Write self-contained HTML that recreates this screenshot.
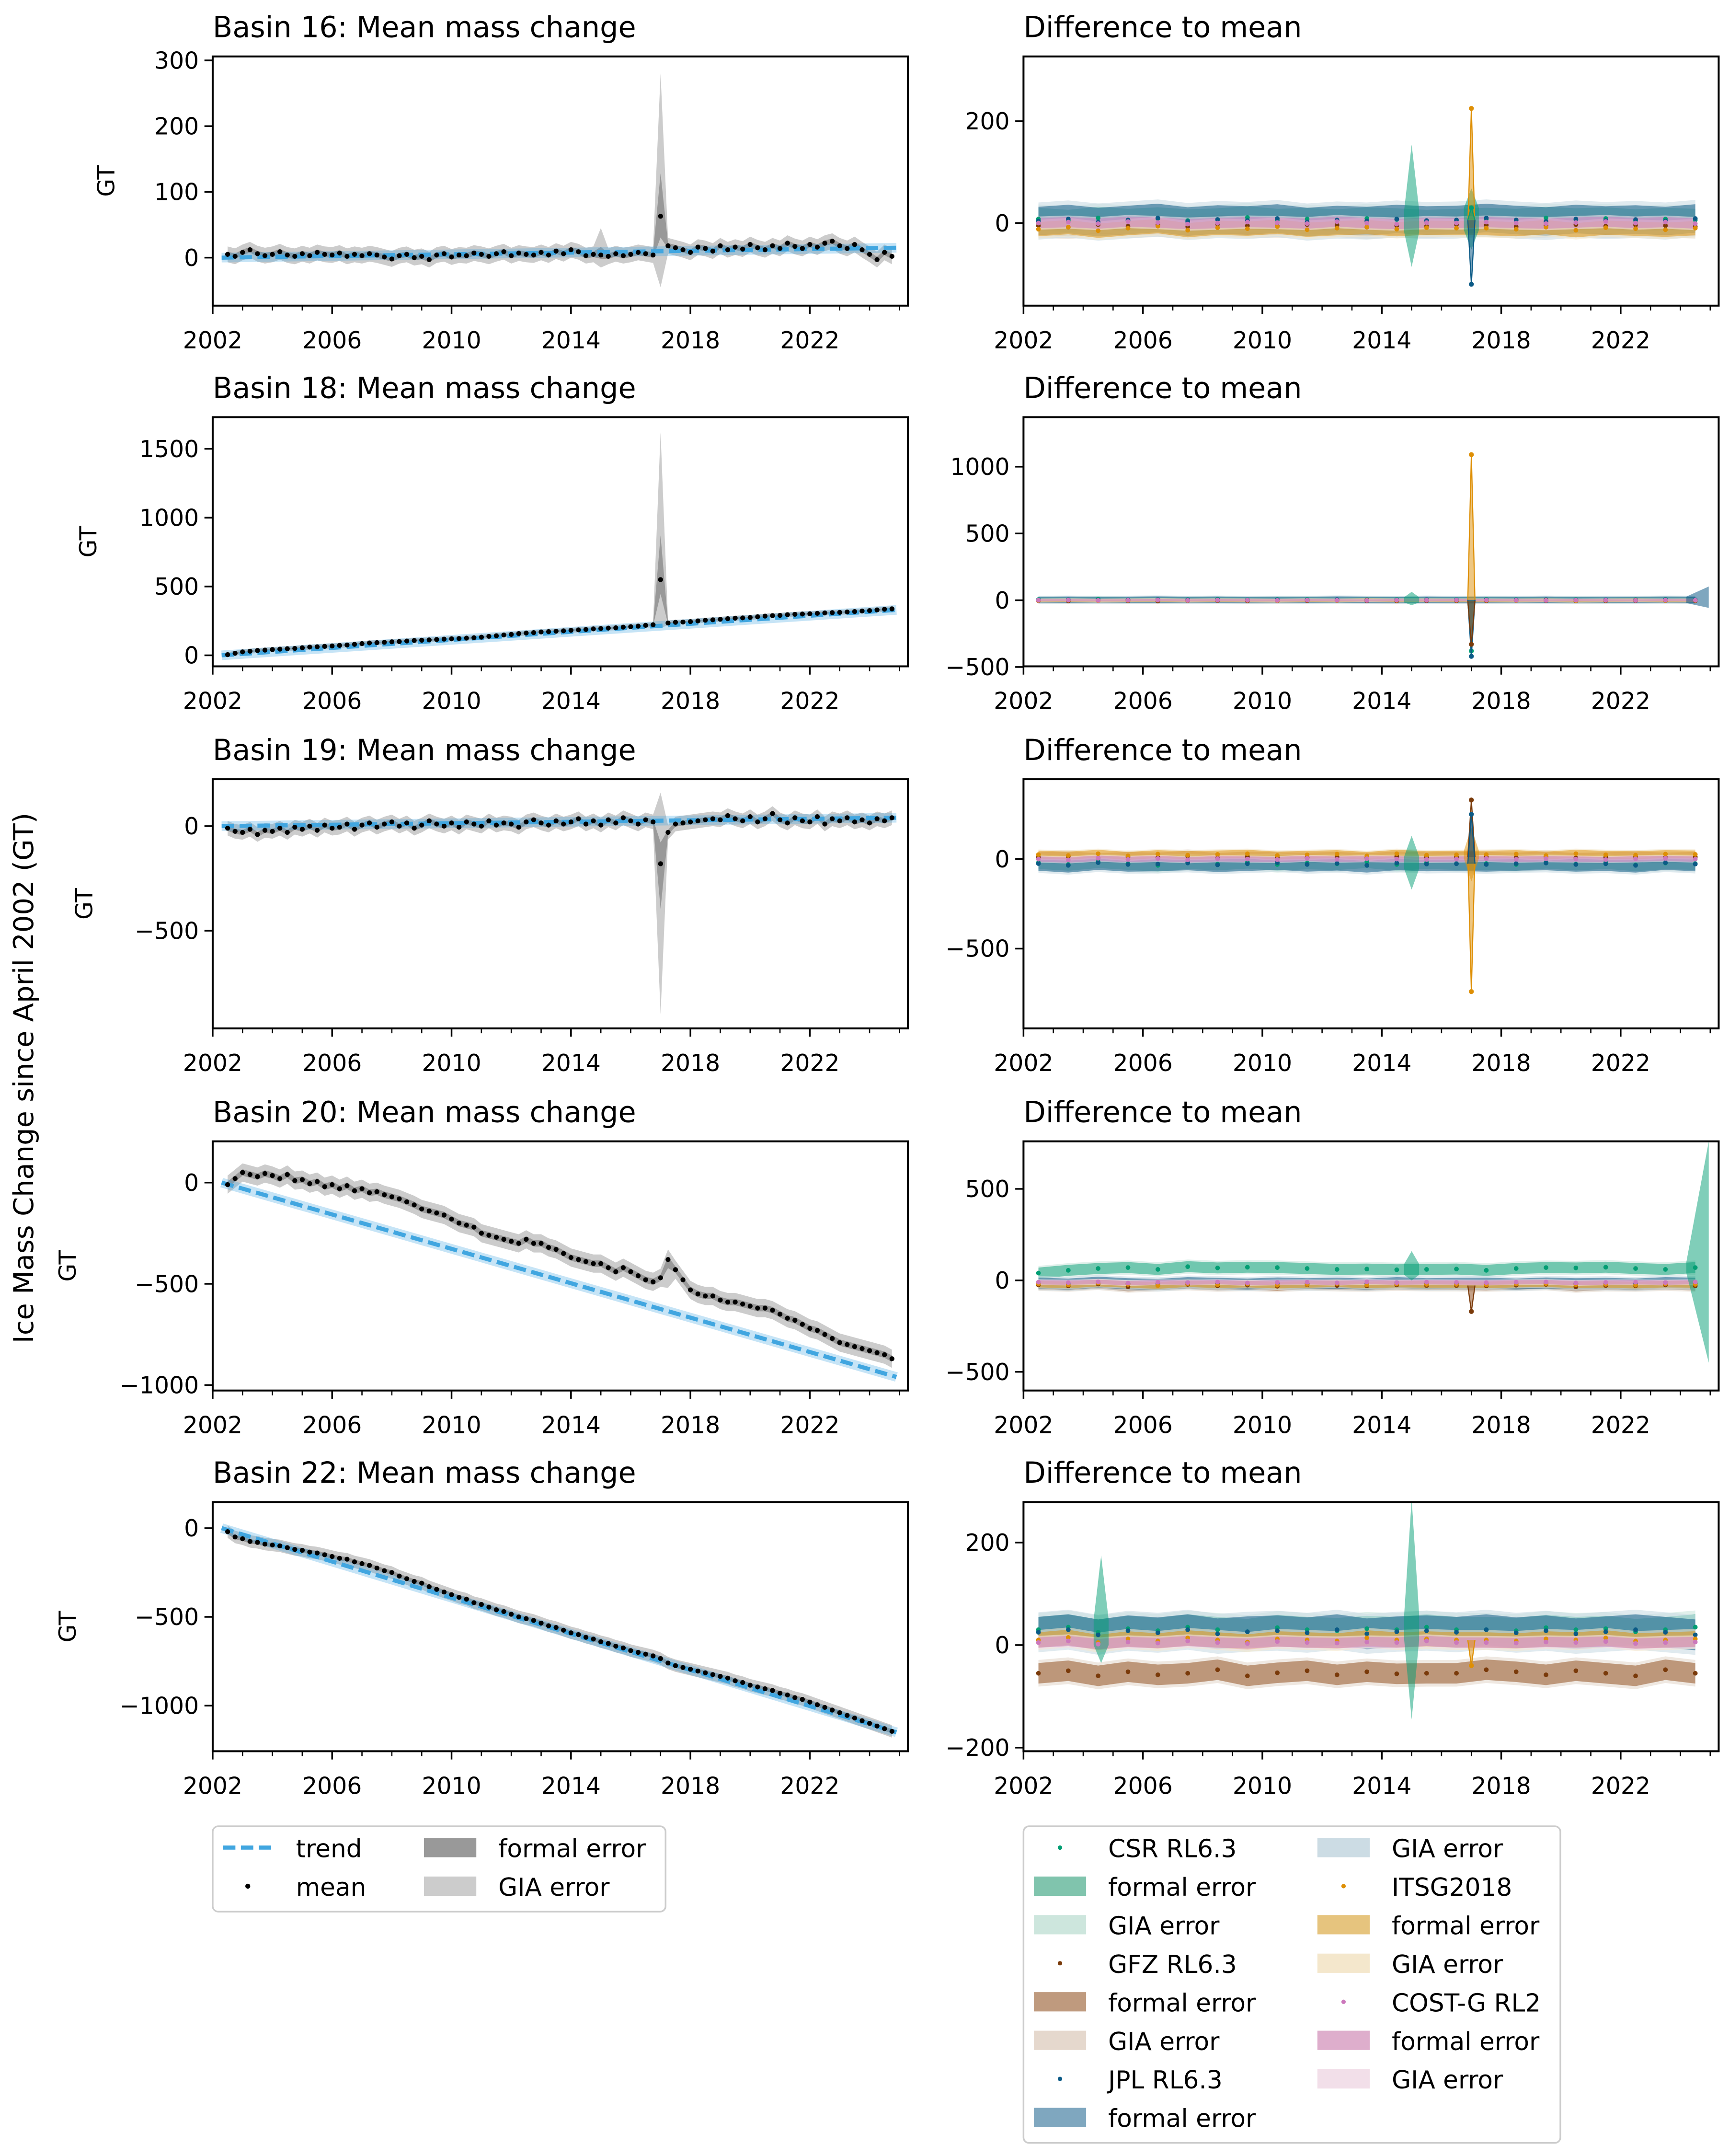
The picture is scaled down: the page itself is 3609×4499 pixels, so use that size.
<!DOCTYPE html>
<html><head><meta charset="utf-8"><style>
html,body{margin:0;padding:0;background:#fff}
svg{display:block;font-family:"DejaVu Sans","Liberation Sans",sans-serif}
</style></head><body>
<svg id="fig" width="3609" height="4499" viewBox="0 0 1256 1566" preserveAspectRatio="none" xmlns="http://www.w3.org/2000/svg">
<rect width="1256" height="1566" fill="#fff"/>
<text x="24" y="783" font-size="20" text-anchor="middle" transform="rotate(-90 24 783)">Ice Mass Change since April 2002 (GT)</text>
<g id="plots"></g>
<g id="legend-left">
<rect x="154.5" y="1326.5" width="329" height="62" rx="4" fill="#fff" stroke="#ccc" stroke-width="1.2"/>
<line x1="162" y1="1342" x2="198" y2="1342" stroke="#41a6e0" stroke-width="3" stroke-dasharray="9,4"/>
<text x="215" y="1349" font-size="18">trend</text>
<circle cx="180" cy="1370" r="1.8" fill="#000"/>
<text x="215" y="1377" font-size="18">mean</text>
<rect x="308" y="1335" width="38" height="14" fill="#999"/>
<text x="362" y="1349" font-size="18">formal error</text>
<rect x="308" y="1363" width="38" height="14" fill="#ccc"/>
<text x="362" y="1377" font-size="18">GIA error</text>
</g>
<g id="legend-right">
<rect x="743.5" y="1326.5" width="390" height="230" rx="4" fill="#fff" stroke="#ccc" stroke-width="1.2"/>
<circle cx="770" cy="1342" r="1.6" fill="#029e73"/><text x="805" y="1349" font-size="18">CSR RL6.3</text>
<rect x="751" y="1363" width="38" height="14" fill="#80c4ad"/><text x="805" y="1377" font-size="18">formal error</text>
<rect x="751" y="1391" width="38" height="14" fill="#cde6dd"/><text x="805" y="1405" font-size="18">GIA error</text>
<circle cx="770" cy="1426" r="1.6" fill="#7a3a0a"/><text x="805" y="1433" font-size="18">GFZ RL6.3</text>
<rect x="751" y="1447" width="38" height="14" fill="#bf9a7e"/><text x="805" y="1461" font-size="18">formal error</text>
<rect x="751" y="1475" width="38" height="14" fill="#e5d8cd"/><text x="805" y="1489" font-size="18">GIA error</text>
<circle cx="770" cy="1510" r="1.6" fill="#0b5a86"/><text x="805" y="1517" font-size="18">JPL RL6.3</text>
<rect x="751" y="1531" width="38" height="14" fill="#7fa7bf"/><text x="805" y="1545" font-size="18">formal error</text>
<rect x="957" y="1335" width="38" height="14" fill="#ccdce4"/><text x="1011" y="1349" font-size="18">GIA error</text>
<circle cx="976" cy="1370" r="1.6" fill="#de8f05"/><text x="1011" y="1377" font-size="18">ITSG2018</text>
<rect x="957" y="1391" width="38" height="14" fill="#e6c47e"/><text x="1011" y="1405" font-size="18">formal error</text>
<rect x="957" y="1419" width="38" height="14" fill="#f4e7cc"/><text x="1011" y="1433" font-size="18">GIA error</text>
<circle cx="976" cy="1454" r="1.6" fill="#cc78bc"/><text x="1011" y="1461" font-size="18">COST-G RL2</text>
<rect x="957" y="1475" width="38" height="14" fill="#deaecc"/><text x="1011" y="1489" font-size="18">formal error</text>
<rect x="957" y="1503" width="38" height="14" fill="#f2dfe9"/><text x="1011" y="1517" font-size="18">GIA error</text>
</g>
</svg>
<script>
// ---- data (quarterly mean, starting 2002.5) ----
const mean16 = [5,2, 8,12,6,3, 5,9,4,2, 6,3,8,5, 4,7,2,5, 3,6,4,1, -2,3,5,0, 2,-3,4,6, 1,4,3,7, 5,2,6,9, 3,7,5,4, 8,4,10,6, 12,9,3,5, 4,2,6,3, 5,8,6,4, 63,18,15,12, 8,16,14,10, 18,12,16,13, 20,15,12,18, 14,22,17,14, 20,16,22,25, 18,14,20,12, 5,-3,8,2];
const mean18 = [5,15, 25,30,35,38, 42,45,48,50, 55,60,62,65, 68,72,75,80, 85,90,92,95, 98,100,104,108, 110,112,115,118, 120,122,125,128, 132,138,142,148, 152,158,162,165, 170,172,175,178, 182,185,188,192, 195,198,200,205, 208,212,218,222, 550,235,240,242, 245,250,255,258, 262,266,270,272, 275,280,285,288, 290,295,298,300, 302,305,308,310, 312,315,318,322, 325,330,335,338];
const mean19 = [-10,-25, -30,-15,-40,-20, -25,-10,-30,-5, -15,0,-20,5, -10,-5,10,-15, 5,15,-5,10, 20,0,15,-10, 5,25,10,0, 15,-5,20,10, 0,25,5,15, 10,-5,20,30, 15,5,25,10, 20,35,10,25, 5,30,15,40, 25,10,30,20, -180,-30,10,15, 20,25,30,35, 30,50,35,25, 45,20,35,60, 30,15,40,25, 20,45,10,35, 25,40,20,30, 15,35,25,40];
const mean20 = [-10,20, 50,40,30,45, 35,20,40,10, 15,-5,5,-20, -10,-30,-15,-40, -30,-50,-45,-60, -70,-80,-95,-110, -130,-140,-150,-160, -180,-200,-210,-220, -250,-260,-270,-280, -290,-300,-280,-300, -300,-320,-330,-350, -370,-380,-390,-400, -400,-420,-440,-420, -440,-460,-480,-490, -470,-380,-430,-480, -530,-550,-560,-560, -580,-590,-590,-600, -610,-620,-620,-630, -650,-670,-680,-700, -720,-730,-750,-770, -790,-800,-810,-820, -830,-840,-850,-870];
const mean22 = [-20,-50, -60,-75,-80,-90, -95,-100,-110,-120, -125,-135,-140,-150, -160,-170,-175,-190, -200,-210,-225,-240, -250,-270,-285,-300, -310,-330,-345,-360, -375,-390,-400,-420, -430,-445,-460,-470, -485,-500,-510,-520, -535,-550,-560,-575, -590,-600,-615,-625, -640,-650,-665,-675, -690,-700,-710,-720, -735,-760,-775,-785, -795,-805,-815,-825, -835,-845,-860,-870, -885,-895,-905,-915, -930,-940,-955,-965, -980,-995,-1010,-1025, -1040,-1055,-1070,-1085, -1100,-1115,-1130,-1145];
const trend16 = [0,15], trend18 = [0,330], trend19 = [0,40], trend20 = [0,-960], trend22 = [0,-1150];
const gia16 = 12, gia18 = 18, gia19 = 35, gia20 = 45, gia22 = 35;
// spikes: [year, lo, hi]
const spikes16 = [[2015.0,-15,45],[2017.0,-45,280]];
const spikes18 = [[2017.0,200,1620]];
const spikes19 = [[2017.0,-900,160]];
const spikes20 = [[2017.25,-520,-330]];
const spikes22 = [];
// ---- right panels: yearly values 2002.5..2024.5, order CSR,GFZ,JPL,ITSG,COSTG ----
const d16 = [[8,4,10,6,9,5,7,11,6,8,5,9,7,4,6,8,6,10,7,9,5,8,6],[-5,-8,-3,-6,-4,-7,-2,-5,-6,-3,-4,-8,-5,-6,-3,-4,-7,-5,-3,-6,-4,-5,-7],[4,8,2,6,10,3,7,5,9,2,6,4,8,5,6,10,6,3,8,5,7,4,9],[-12,-8,-15,-10,-6,-14,-9,-11,-7,-13,-10,-8,-12,-9,-10,-10,-12,-8,-14,-9,-11,-13,-10],[0,2,-1,3,1,-2,0,2,1,-1,3,0,-2,1,0,2,0,-1,1,3,0,2,-1]];
const d18 = [[5,3,8,2,6,4,7,3,5,6,2,4,5,3,4,6,4,3,5,2,4,6,3],[-3,-5,-2,-4,-6,-3,-2,-5,-4,-3,-2,-4,-5,-3,-4,-4,-2,-3,-5,-4,-3,-2,-4],[2,4,1,3,5,2,4,1,3,2,5,3,1,4,2,3,2,4,1,3,2,4,3],[-2,0,-3,-1,1,-2,0,-1,-3,0,-2,1,-1,0,-1,-1,-2,0,-3,-1,0,-2,-1],[0,1,-1,0,2,-1,1,0,-1,1,0,-1,1,0,1,1,0,-1,1,0,-1,1,0]];
const d19 = [[-20,-30,-15,-25,-35,-20,-28,-18,-30,-22,-26,-15,-30,-20,-25,-25,-30,-18,-28,-20,-32,-22,-25],[10,15,5,12,8,18,6,14,10,8,12,5,15,10,12,12,8,15,6,10,14,8,12],[-25,-35,-20,-30,-28,-22,-32,-26,-20,-30,-24,-35,-22,-28,-26,-30,-25,-22,-30,-26,-35,-20,-28],[25,20,30,18,28,22,26,30,20,24,28,18,30,22,24,25,28,20,30,24,22,28,26],[0,-5,5,-2,3,-4,2,0,-3,4,-1,2,0,-2,0,3,-1,2,0,-3,1,4,0]];
const d20 = [[40,55,65,70,60,75,68,72,70,65,60,62,58,60,62,55,65,70,68,72,65,60,70],[-25,-30,-20,-35,-28,-22,-30,-26,-32,-24,-28,-30,-25,-28,-28,-30,-26,-22,-35,-28,-30,-25,-30],[-15,-20,-10,-18,-22,-12,-16,-20,-14,-18,-15,-20,-12,-18,-16,-15,-20,-14,-18,-16,-20,-12,-15],[-20,-25,-15,-22,-28,-18,-24,-20,-26,-22,-18,-25,-20,-22,-22,-25,-20,-18,-24,-22,-26,-20,-22],[-10,-12,-8,-15,-10,-12,-9,-14,-11,-10,-13,-8,-12,-10,-11,-12,-10,-9,-14,-11,-10,-12,-9]];
const d22 = [[30,35,25,32,28,35,30,26,34,30,28,32,30,35,30,30,28,34,30,32,26,30,35],[-55,-50,-60,-52,-58,-55,-48,-60,-54,-50,-58,-52,-56,-55,-55,-48,-52,-58,-50,-55,-60,-48,-55],[25,30,20,28,24,30,22,26,28,24,30,22,26,28,25,30,24,28,22,26,30,25,20],[10,15,5,12,8,14,10,6,12,10,8,14,10,12,10,10,8,12,10,14,8,10,12],[5,8,2,6,4,8,5,3,7,5,4,6,5,8,5,5,4,6,5,7,3,5,6]];
// single-epoch outliers near 2017.0: [seriesIdx, value]
const spk16 = [[3,225],[2,-120],[0,30]];
const spk18 = [[3,1090],[0,-380],[2,-420],[1,-330]];
const spk19 = [[3,-740],[1,330],[2,250]];
const spk20 = [[1,-170]];
const spk22 = [[3,-40]];
// formal-error half widths per series (CSR,GFZ,JPL,ITSG,COSTG)
const band16 = [22,18,28,14,10], band18 = [20,16,24,12,8], band19 = [35,28,40,22,15], band20 = [30,25,30,18,12], band22 = [25,20,30,15,10];
// narrow band spikes: [seriesIdx, year, up, down]
const bandSpikes16 = [[0,2015.0,150,-90],[0,2017.0,60,-60]], bandSpikes18 = [[0,2015.0,60,-40]], bandSpikes19 = [[0,2015.0,150,-150],[3,2017.0,150,-150]], bandSpikes20 = [[0,2015.0,100,-60]], bandSpikes22 = [[0,2015.0,250,-180],[0,2004.6,150,-60]];
const tailSpikes = [[1,2024.9,100,-60],[3,2024.9,690,-520],[4,2024.9,0,0],[2,2024.9,0,0],[4,2024.9,0,0]]; // per panel index: [panel,year,up,down] uses series 0

const NS='http://www.w3.org/2000/svg';
const root=document.getElementById('plots');
function mk(tag,attrs,parent){const e=document.createElementNS(NS,tag);for(const k in attrs)e.setAttribute(k,attrs[k]);(parent||root).appendChild(e);return e;}
const quarterYears=[];for(let i=0;i<90;i++)quarterYears.push(2002.5+i*0.25);
const annualYears=[];for(let i=0;i<23;i++)annualYears.push(2002.5+i);
const X0L=154.5,X0R=743.5,W=505,H=181,PX=21.69;
const rowsTop=[41,303,566,829,1091];
const ticksYears=[2002,2006,2010,2014,2018,2022];

const leftPanels=[
 {title:'Basin 16: Mean mass change',mean:mean16,trend:trend16,gia:gia16,spikes:spikes16,top:306,bot:-73,ticks:[0,100,200,300],gtx:83},
 {title:'Basin 18: Mean mass change',mean:mean18,trend:trend18,gia:gia18,spikes:spikes18,top:1730,bot:-80,ticks:[0,500,1000,1500],gtx:70},
 {title:'Basin 19: Mean mass change',mean:mean19,trend:trend19,gia:gia19,spikes:spikes19,top:224,bot:-967,ticks:[-500,0],gtx:67},
 {title:'Basin 20: Mean mass change',mean:mean20,trend:trend20,gia:gia20,spikes:spikes20,top:204,bot:-1027,ticks:[-1000,-500,0],gtx:55},
 {title:'Basin 22: Mean mass change',mean:mean22,trend:trend22,gia:gia22,spikes:spikes22,top:147,bot:-1257,ticks:[-1000,-500,0],gtx:55}];
const rightPanels=[
 {data:d16,band:band16,bs:bandSpikes16,spk:spk16,top:327,bot:-162,ticks:[0,200]},
 {data:d18,band:band18,bs:bandSpikes18,spk:spk18,top:1371,bot:-495,ticks:[-500,0,500,1000]},
 {data:d19,band:band19,bs:bandSpikes19,spk:spk19,top:446,bot:-946,ticks:[-500,0]},
 {data:d20,band:band20,bs:bandSpikes20,spk:spk20,top:760,bot:-602,ticks:[-500,0,500]},
 {data:d22,band:band22,bs:bandSpikes22,spk:spk22,top:279,bot:-207,ticks:[-200,0,200]}];
const dotCol=['#029e73','#7a3a0a','#0b5a86','#de8f05','#cc78bc'];
const bandCol=['#029e73','#8b4513','#00507f','#de8f05','#cc78bc'];
const giaCol=['#cde6dd','#e5d8cd','#ccdce4','#f4e7cc','#f2dfe9'];
const fmt=v=>v<0?'\u2212'+(-v):''+v;

function frame(g,x0,top,P,ys,xs){
  mk('rect',{x:x0,y:top,width:W,height:H,fill:'none',stroke:'#000','stroke-width':1.4},g);
  for(let yr=2002;yr<=2025;yr++){const x=xs(yr);if(x>x0+W)break;const maj=ticksYears.includes(yr);
    mk('line',{x1:x,y1:top+H,x2:x,y2:top+H+(maj?6:3.5),stroke:'#000','stroke-width':maj?1.2:0.9},g);
    if(maj){const t=mk('text',{x:x,y:top+H+31,'font-size':17,'text-anchor':'middle'},g);t.textContent=yr;
      
      }}
  P.ticks.forEach(v=>{const y=ys(v);mk('line',{x1:x0-6,y1:y,x2:x0,y2:y,stroke:'#000','stroke-width':1.2},g);
    const t=mk('text',{x:x0-10,y:y+6,'font-size':17,'text-anchor':'end'},g);t.textContent=fmt(v);
    
    });
}
const poly=(h,l)=>h.map(p=>p.join(',')).join(' ')+' '+l.slice().reverse().map(p=>p.join(',')).join(' ');

leftPanels.forEach((P,i)=>{
  const top=rowsTop[i];
  const g=mk('g',{});
  
  
  const ys=v=>top+(P.top-v)/(P.top-P.bot)*H, xs=t=>X0L+(t-2002)*PX;
  const cid='clipL'+i;const cp=mk('clipPath',{id:cid},g);mk('rect',{x:X0L,y:top,width:W,height:H},cp);
  const inner=mk('g',{'clip-path':'url(#'+cid+')'},g);
  const lo=[],hi=[],flo=[],fhi=[];
  quarterYears.forEach((t,k)=>{let a=P.mean[k]-P.gia,b=P.mean[k]+P.gia,fa=P.mean[k]-P.gia*0.35,fb=P.mean[k]+P.gia*0.35;
    P.spikes.forEach(s=>{if(Math.abs(s[0]-t)<0.01){a=s[1];b=s[2];fa=P.mean[k]-(P.mean[k]-s[1])*0.3;fb=P.mean[k]+(s[2]-P.mean[k])*0.3;}});
    lo.push([xs(t),ys(a)]);hi.push([xs(t),ys(b)]);flo.push([xs(t),ys(fa)]);fhi.push([xs(t),ys(fb)]);});
  const gb=mk('polygon',{points:poly(hi,lo),fill:'#ccc'},inner);
  
  
  const fbp=mk('polygon',{points:poly(fhi,flo),fill:'#888','fill-opacity':0.75},inner);
  
  
  const t0=2002.3,t1=2024.9;
  mk('line',{x1:xs(t0),y1:ys(P.trend[0]),x2:xs(t1),y2:ys(P.trend[1]),stroke:'#41a6e0','stroke-opacity':0.3,'stroke-width':7},inner);
  const tl=mk('line',{x1:xs(t0),y1:ys(P.trend[0]),x2:xs(t1),y2:ys(P.trend[1]),stroke:'#41a6e0','stroke-width':3,'stroke-dasharray':'9,4'},inner);
  
  
  quarterYears.forEach((t,k)=>{const c=mk('circle',{cx:xs(t),cy:ys(P.mean[k]),r:1.8,fill:'#000'},inner);
    
    });
  frame(g,X0L,top,P,ys,xs);
  const tt=mk('text',{x:X0L,y:top-14,'font-size':21},g);tt.textContent=P.title;
  
  
  const gt=mk('text',{x:P.gtx,y:top+H/2,'font-size':17,'text-anchor':'middle',transform:'rotate(-90 '+P.gtx+' '+(top+H/2)+')'},g);gt.textContent='GT';
  
  
});

rightPanels.forEach((P,i)=>{
  const top=rowsTop[i];
  const g=mk('g',{});
  
  
  const ys=v=>top+(P.top-v)/(P.top-P.bot)*H, xs=t=>X0R+(t-2002)*PX;
  const cid='clipR'+i;const cp=mk('clipPath',{id:cid},g);mk('rect',{x:X0R,y:top,width:W,height:H},cp);
  const inner=mk('g',{'clip-path':'url(#'+cid+')'},g);
  const order=[1,0,2,3,4];
  order.forEach(s=>{
    const vals=P.data[s];const hw=P.band[s];
    const hi=annualYears.map((t,k)=>[xs(t),ys(vals[k]+hw)]),lo=annualYears.map((t,k)=>[xs(t),ys(vals[k]-hw)]);
    const hiG=annualYears.map((t,k)=>[xs(t),ys(vals[k]+hw*1.3)]),loG=annualYears.map((t,k)=>[xs(t),ys(vals[k]-hw*1.3)]);
    const gb=mk('polygon',{points:poly(hiG,loG),fill:giaCol[s],'fill-opacity':0.6},inner);
    
    
    const fb=mk('polygon',{points:poly(hi,lo),fill:bandCol[s],'fill-opacity':0.5},inner);
    
    
  });
  // narrow band spikes
  P.bs.forEach(b=>{const s=b[0],t=b[1],k=Math.min(22,Math.max(0,Math.round(t-2002.5))),v=P.data[s][k];
    const pts=[[xs(t-0.25),ys(v+P.band[s])],[xs(t),ys(v+b[2])],[xs(t+0.25),ys(v+P.band[s])],[xs(t+0.25),ys(v-P.band[s])],[xs(t),ys(v+b[3])],[xs(t-0.25),ys(v-P.band[s])]];
    const sp=mk('polygon',{points:pts.map(p=>p.join(',')).join(' '),fill:bandCol[s],'fill-opacity':0.5},inner);
    
    });
  // tail blow-up at end of record (panel 18 JPL, panel 20 CSR)
  if(i===1||i===3){const s=i===1?2:0;const up=i===1?100:690,dn=i===1?-60:-520;const v=P.data[s][22];
    const pts=[[xs(2024.2),ys(v+P.band[s])],[xs(2024.95),ys(v+up)],[xs(2024.95),ys(v+dn)],[xs(2024.2),ys(v-P.band[s])]];
    const sp=mk('polygon',{points:pts.map(p=>p.join(',')).join(' '),fill:bandCol[s],'fill-opacity':0.5},inner);
    
    }
  // wedge across 2017.5-2018.5 gap
  order.forEach(s=>{
    const vals=P.data[s];
    annualYears.forEach((t,k)=>{const c=mk('circle',{cx:xs(t),cy:ys(vals[k]),r:1.7,fill:dotCol[s]},inner);
      
      });
  });
  P.spk.forEach(sp=>{const s=sp[0],v=sp[1],t=2017.0,k=14;const base=P.data[s][k];
    const pts=[[xs(t-0.12),ys(base)],[xs(t),ys(v)],[xs(t+0.12),ys(base)]];
    const l=mk('polyline',{points:pts.map(p=>p.join(',')).join(' '),fill:bandCol[s],'fill-opacity':0.5,stroke:dotCol[s],'stroke-width':0.8},inner);
    
    
    const c=mk('circle',{cx:xs(t),cy:ys(v),r:1.8,fill:dotCol[s]},inner);
    
    });
  frame(g,X0R,top,P,ys,xs);
  const tt=mk('text',{x:X0R,y:top-14,'font-size':21},g);tt.textContent='Difference to mean';
  
  
});
</script>
</body></html>
